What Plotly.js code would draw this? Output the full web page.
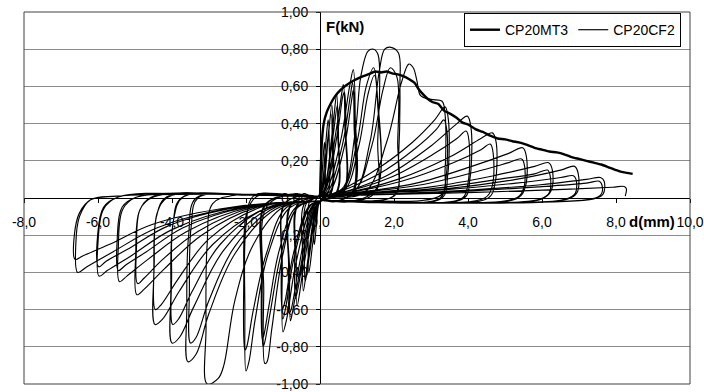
<!DOCTYPE html>
<html>
<head>
<meta charset="utf-8">
<script src="https://cdn.plot.ly/plotly-3.0.1.min.js"></script>
<style>html,body{margin:0;padding:0;background:#fff}#chart{width:704px;height:392px}</style>
</head>
<body>
<div id="chart"></div>
<script>
// Monotonic test CP20MT3: displacement d (mm) and force F (kN)
const mt3D = [0, 0.02, 0.05, 0.1, 0.18, 0.27, 0.4, 0.55, 0.7, 0.9, 1.1, 1.3, 1.5, 1.65, 1.8, 1.95, 2.1, 2.25, 2.4, 2.55, 2.65, 2.75, 2.9, 3.05, 3.2, 3.35, 3.5, 3.7, 3.85, 4.0, 4.2, 4.4, 4.6, 4.8, 5.0, 5.2, 5.4, 5.6, 5.8, 6.0, 6.2, 6.4, 6.6, 6.8, 7.0, 7.2, 7.4, 7.6, 7.8, 8.0, 8.15, 8.3, 8.45];
const mt3F = [0, 0.15, 0.3, 0.4, 0.46, 0.5, 0.545, 0.58, 0.605, 0.63, 0.65, 0.665, 0.68, 0.675, 0.68, 0.67, 0.665, 0.655, 0.64, 0.62, 0.59, 0.565, 0.535, 0.515, 0.505, 0.47, 0.455, 0.43, 0.405, 0.395, 0.37, 0.355, 0.335, 0.32, 0.315, 0.305, 0.298, 0.285, 0.27, 0.26, 0.25, 0.245, 0.235, 0.22, 0.21, 0.2, 0.19, 0.18, 0.165, 0.15, 0.14, 0.135, 0.13];

// Cyclic test CP20CF2: one array of [d, F] points per cycle
const cyc01 = [[0,0],[0.03,0.05],[0.08,0.2],[0.12,0.30],[0.14,0.2],[0.12,0.03],[0.03,-0.01],[-0.04,-0.04],[-0.10,-0.15],[-0.15,-0.25],[-0.17,-0.15],[-0.14,-0.02],[-0.03,0.01]];
const cyc02 = [[0.05,0.05],[0.15,0.28],[0.22,0.42],[0.25,0.28],[0.22,0.03],[0.03,-0.01],[-0.06,-0.05],[-0.2,-0.25],[-0.3,-0.40],[-0.32,-0.25],[-0.28,-0.02],[-0.03,0.01]];
const cyc03 = [[0.08,0.05],[0.22,0.32],[0.32,0.50],[0.35,0.32],[0.31,0.03],[0.05,-0.01],[-0.1,-0.05],[-0.32,-0.32],[-0.45,-0.50],[-0.47,-0.3],[-0.42,-0.03],[-0.05,0.01]];
const cyc03b = [[0.06,0.04],[0.2,0.3],[0.3,0.45],[0.33,0.3],[0.29,0.03],[0.04,-0.01],[-0.08,-0.05],[-0.28,-0.3],[-0.4,-0.45],[-0.42,-0.28],[-0.37,-0.03],[-0.04,0.01]];
const cyc04 = [[0.1,0.04],[0.33,0.35],[0.45,0.56],[0.48,0.35],[0.44,0.03],[0.05,-0.015],[-0.12,-0.05],[-0.45,-0.38],[-0.62,-0.58],[-0.64,-0.35],[-0.58,-0.03],[-0.05,0.01]];
const cyc04b = [[0.1,0.04],[0.35,0.33],[0.47,0.5],[0.5,0.32],[0.46,0.03],[0.05,-0.015],[-0.14,-0.05],[-0.48,-0.36],[-0.66,-0.54],[-0.68,-0.3],[-0.6,-0.03],[-0.05,0.01]];
const cyc05 = [[0.12,0.04],[0.45,0.38],[0.6,0.58],[0.63,0.61],[0.67,0.4],[0.62,0.03],[0.05,-0.015],[-0.15,-0.04],[-0.55,-0.4],[-0.76,-0.63],[-0.8,-0.66],[-0.82,-0.4],[-0.76,-0.03],[-0.05,0.01]];
const cyc05b = [[0.14,0.04],[0.48,0.36],[0.62,0.55],[0.66,0.57],[0.7,0.36],[0.64,0.03],[0.05,-0.015],[-0.18,-0.04],[-0.58,-0.38],[-0.78,-0.6],[-0.83,-0.62],[-0.85,-0.36],[-0.78,-0.03],[-0.05,0.01]];
const cyc06 = [[0.15,0.03],[0.55,0.3],[0.8,0.6],[0.9,0.69],[0.95,0.45],[0.9,0.03],[0.4,-0.02],[0.05,-0.015],[-0.2,-0.04],[-0.65,-0.35],[-0.9,-0.65],[-1.0,-0.72],[-1.02,-0.4],[-0.95,-0.03],[-0.4,0.015],[-0.05,0.01]];
const cyc07 = [[0.2,0.03],[0.6,0.28],[0.82,0.55],[0.88,0.62],[0.92,0.4],[0.87,0.03],[0.4,-0.02],[0.05,-0.015],[-0.25,-0.04],[-0.7,-0.32],[-0.92,-0.58],[-1.0,-0.65],[-1.02,-0.35],[-0.95,-0.03],[-0.4,0.015],[-0.05,0.01]];
const cyc07b = [[0.25,0.03],[0.65,0.27],[0.85,0.52],[0.9,0.58],[0.94,0.38],[0.88,0.03],[0.4,-0.02],[0.05,-0.015],[-0.28,-0.04],[-0.72,-0.3],[-0.94,-0.55],[-1.02,-0.6],[-1.04,-0.32],[-0.96,-0.03],[-0.4,0.015],[-0.05,0.01]];
const cyc08 = [[0.6,0.05],[0.95,0.35],[1.1,0.65],[1.3,0.79],[1.45,0.80],[1.57,0.77],[1.56,0.3],[1.5,0.03],[0.8,-0.02],[0.05,-0.015],[-0.6,-0.05],[-1.0,-0.3],[-1.3,-0.7],[-1.43,-0.88],[-1.49,-0.89],[-1.52,-0.5],[-1.45,-0.05],[-0.8,0.02],[-0.05,0.01]];
const cyc09 = [[0.6,0.04],[1.0,0.3],[1.25,0.6],[1.45,0.70],[1.55,0.55],[1.52,0.05],[0.8,-0.02],[0.05,-0.015],[-0.6,-0.05],[-1.05,-0.3],[-1.35,-0.62],[-1.5,-0.78],[-1.54,-0.80],[-1.56,-0.45],[-1.48,-0.04],[-0.8,0.02],[-0.05,0.01]];
const cyc09b = [[0.65,0.04],[1.05,0.28],[1.3,0.56],[1.47,0.66],[1.56,0.5],[1.53,0.05],[0.8,-0.02],[0.05,-0.015],[-0.65,-0.05],[-1.1,-0.28],[-1.38,-0.58],[-1.52,-0.74],[-1.56,-0.76],[-1.58,-0.42],[-1.5,-0.04],[-0.8,0.02],[-0.05,0.01]];
const cyc10 = [[0.9,0.03],[1.35,0.3],[1.6,0.68],[1.75,0.8],[1.92,0.81],[2.12,0.78],[2.16,0.6],[2.12,0.2],[2.05,0.02],[1.0,-0.02],[0.05,-0.015],[-0.8,-0.05],[-1.4,-0.3],[-1.75,-0.65],[-1.92,-0.88],[-2.0,-0.93],[-2.03,-0.6],[-2.0,-0.15],[-1.8,0.01],[-0.9,0.02],[-0.05,0.01]];
const cyc11 = [[0.9,0.03],[1.4,0.28],[1.7,0.58],[1.9,0.70],[2.08,0.65],[2.1,0.3],[2.03,0.02],[1.0,-0.02],[0.05,-0.015],[-0.9,-0.05],[-1.45,-0.3],[-1.8,-0.6],[-1.98,-0.8],[-2.03,-0.82],[-2.06,-0.45],[-1.98,-0.08],[-1.7,0.01],[-0.9,0.02],[-0.05,0.01]];
const cyc12 = [[1.2,0.03],[1.8,0.3],[2.2,0.62],[2.4,0.72],[2.52,0.70],[2.62,0.63],[2.72,0.55],[3.0,0.53],[3.3,0.52],[3.38,0.45],[3.38,0.15],[3.3,0.02],[1.5,-0.02],[0.05,-0.015],[-1.0,-0.05],[-1.8,-0.25],[-2.3,-0.55],[-2.6,-0.9],[-2.75,-0.97],[-3.05,-1.0],[-3.08,-0.7],[-3.05,-0.25],[-2.9,-0.03],[-2.3,0.015],[-0.05,0.01]];
const cyc13 = [[0.3,0.02],[1.5,0.15],[2.5,0.3],[3.1,0.42],[3.38,0.49],[3.47,0.42],[3.45,0.12],[3.3,0.0],[1.5,-0.02],[0.05,-0.015],[-1.2,-0.06],[-2.3,-0.3],[-3.0,-0.62],[-3.35,-0.84],[-3.57,-0.88],[-3.6,-0.6],[-3.55,-0.2],[-3.35,0.0],[-2.0,0.015],[-0.05,0.01]];
const cyc14 = [[0.3,0.02],[1.6,0.13],[2.6,0.27],[3.15,0.37],[3.35,0.42],[3.43,0.36],[3.4,0.1],[3.25,0.0],[1.5,-0.025],[0.05,-0.015],[-1.2,-0.05],[-2.3,-0.26],[-3.0,-0.55],[-3.35,-0.75],[-3.5,-0.78],[-3.53,-0.5],[-3.48,-0.15],[-3.3,0.0],[-2.0,0.02],[-0.05,0.01]];
const cyc15 = [[0.4,0.02],[1.8,0.12],[3.0,0.28],[3.7,0.4],[3.98,0.44],[4.08,0.38],[4.05,0.1],[3.9,0.0],[2.0,-0.025],[0.05,-0.015],[-1.4,-0.06],[-2.6,-0.28],[-3.4,-0.58],[-3.8,-0.75],[-4.0,-0.78],[-4.03,-0.5],[-3.98,-0.15],[-3.75,0.0],[-2.0,0.02],[-0.05,0.01]];
const cyc16 = [[0.4,0.02],[1.9,0.11],[3.1,0.24],[3.7,0.32],[3.95,0.36],[4.03,0.3],[4.0,0.08],[3.85,0.0],[2.0,-0.025],[0.05,-0.015],[-1.4,-0.05],[-2.7,-0.25],[-3.45,-0.5],[-3.82,-0.65],[-3.98,-0.68],[-4.01,-0.42],[-3.96,-0.12],[-3.7,0.005],[-2.0,0.02],[-0.05,0.01]];
const cyc17 = [[0.5,0.02],[2.1,0.1],[3.5,0.22],[4.35,0.32],[4.66,0.35],[4.76,0.3],[4.73,0.08],[4.55,0.0],[2.3,-0.025],[0.05,-0.015],[-1.5,-0.06],[-2.9,-0.25],[-3.8,-0.5],[-4.25,-0.65],[-4.46,-0.68],[-4.49,-0.4],[-4.42,-0.1],[-4.15,0.005],[-2.2,0.02],[-0.05,0.01]];
const cyc18 = [[0.5,0.02],[2.2,0.09],[3.6,0.19],[4.35,0.26],[4.6,0.29],[4.68,0.24],[4.65,0.06],[4.45,0.0],[2.3,-0.025],[0.05,-0.015],[-1.6,-0.05],[-3.0,-0.22],[-3.85,-0.44],[-4.28,-0.57],[-4.45,-0.60],[-4.48,-0.35],[-4.4,-0.08],[-4.1,0.005],[-2.2,0.02],[-0.05,0.01]];
const cyc19 = [[0.6,0.02],[2.6,0.08],[4.1,0.17],[5.1,0.24],[5.48,0.27],[5.58,0.22],[5.55,0.06],[5.35,0.0],[2.7,-0.025],[0.05,-0.015],[-1.7,-0.05],[-3.2,-0.2],[-4.2,-0.38],[-4.75,-0.49],[-4.95,-0.52],[-4.98,-0.3],[-4.88,-0.07],[-4.55,0.005],[-2.4,0.02],[-0.05,0.01]];
const cyc20 = [[0.6,0.02],[2.7,0.07],[4.2,0.14],[5.1,0.19],[5.45,0.21],[5.53,0.17],[5.5,0.05],[5.3,0.0],[2.7,-0.025],[0.05,-0.015],[-1.8,-0.05],[-3.3,-0.18],[-4.25,-0.33],[-4.75,-0.43],[-4.93,-0.46],[-4.96,-0.27],[-4.86,-0.06],[-4.5,0.005],[-2.4,0.02],[-0.05,0.01]];
const cyc21 = [[0.7,0.02],[3.0,0.06],[4.7,0.12],[5.8,0.17],[6.18,0.19],[6.28,0.15],[6.25,0.04],[6.0,-0.005],[3.0,-0.025],[0.05,-0.015],[-1.9,-0.05],[-3.6,-0.18],[-4.65,-0.33],[-5.22,-0.42],[-5.42,-0.45],[-5.45,-0.26],[-5.33,-0.06],[-4.95,0.005],[-2.6,0.02],[-0.05,0.01]];
const cyc22 = [[0.7,0.02],[3.0,0.05],[4.8,0.1],[5.8,0.13],[6.15,0.15],[6.22,0.12],[6.2,0.03],[5.95,-0.005],[3.0,-0.025],[0.05,-0.015],[-2.0,-0.05],[-3.7,-0.16],[-4.7,-0.29],[-5.25,-0.36],[-5.45,-0.39],[-5.48,-0.22],[-5.35,-0.05],[-4.95,0.005],[-2.6,0.02],[-0.05,0.01]];
const cyc23 = [[0.8,0.02],[3.4,0.05],[5.3,0.1],[6.5,0.15],[6.88,0.17],[6.98,0.13],[6.95,0.03],[6.7,-0.005],[3.4,-0.025],[0.05,-0.015],[-2.1,-0.05],[-4.0,-0.17],[-5.1,-0.31],[-5.75,-0.39],[-5.97,-0.42],[-6.0,-0.24],[-5.85,-0.06],[-5.45,0.005],[-2.9,0.02],[-0.05,0.01]];
const cyc24 = [[0.8,0.02],[3.4,0.045],[5.3,0.08],[6.5,0.11],[6.85,0.12],[6.92,0.1],[6.9,0.025],[6.65,-0.005],[3.4,-0.025],[0.05,-0.015],[-2.2,-0.05],[-4.1,-0.15],[-5.15,-0.27],[-5.78,-0.34],[-5.98,-0.37],[-6.01,-0.2],[-5.85,-0.05],[-5.45,0.005],[-2.9,0.02],[-0.05,0.01]];
const cyc25 = [[0.9,0.015],[3.8,0.04],[5.9,0.07],[7.2,0.1],[7.58,0.11],[7.68,0.09],[7.65,0.02],[7.4,-0.005],[3.7,-0.025],[0.05,-0.015],[-2.3,-0.05],[-4.4,-0.16],[-5.6,-0.29],[-6.3,-0.37],[-6.55,-0.40],[-6.6,-0.25],[-6.5,-0.1],[-6.2,-0.01],[-5.5,0.01],[-3.0,0.02],[-0.05,0.01]];
const cyc26 = [[0.9,0.015],[3.8,0.035],[5.9,0.06],[7.2,0.08],[7.55,0.09],[7.62,0.07],[7.6,0.02],[7.35,-0.005],[3.7,-0.025],[0.05,-0.015],[-2.4,-0.05],[-4.5,-0.14],[-5.7,-0.25],[-6.4,-0.31],[-6.62,-0.33],[-6.64,-0.2],[-6.5,-0.08],[-6.2,-0.01],[-5.5,0.01],[-3.0,0.02],[-0.05,0.01]];
const cyc27 = [[1.0,0.015],[4.2,0.03],[6.4,0.045],[7.9,0.058],[8.22,0.062],[8.28,0.05],[8.25,0.01]];

const seriesNames = ['CP20MT3', 'CP20CF2'];
const xTitle = 'd(mm)';
const yTitle = 'F(kN)';
const xTickVals = [-8, -6, -4, -2, 0, 2, 4, 6, 8, 10];
const xTickText = ['-8,0', '-6,0', '-4,0', '-2,0', '0,0', '2,0', '4,0', '6,0', '8,0', '10,0'];
const yTickVals = [-1, -0.8, -0.6, -0.4, -0.2, 0, 0.2, 0.4, 0.6, 0.8, 1];
const yTickText = ['-1,00', '-0,80', '-0,60', '-0,40', '-0,20', '0,00', '0,20', '0,40', '0,60', '0,80', '1,00'];

const cycles = [cyc01,cyc02,cyc03,cyc03b,cyc04,cyc04b,cyc05,cyc05b,cyc06,cyc07,cyc07b,cyc08,cyc09,cyc09b,cyc10,cyc11,cyc12,cyc13,cyc14,cyc15,cyc16,cyc17,cyc18,cyc19,cyc20,cyc21,cyc22,cyc23,cyc24,cyc25,cyc26,cyc27];
const cf2 = [].concat(...cycles);
const cf2D = cf2.map(p => p[0]);
const cf2F = cf2.map(p => p[1]);

const font = 'Arial, "Liberation Sans", sans-serif';

const traces = [
  {x: mt3D, y: mt3F, type: 'scatter', mode: 'lines', name: seriesNames[0],
   line: {color: '#000', width: 2.4, shape: 'spline', smoothing: 0.6}},
  {x: cf2D, y: cf2F, type: 'scatter', mode: 'lines', name: seriesNames[1],
   line: {color: '#000', width: 1.15, shape: 'spline', smoothing: 1}}
];

const layout = {
  width: 704, height: 392,
  margin: {l: 24, r: 14, t: 12, b: 8},
  paper_bgcolor: '#fff', plot_bgcolor: '#fff',
  font: {family: font, size: 14, color: '#000'},
  showlegend: true,
  legend: {orientation: 'h', x: 0.9865, xanchor: 'right', y: 0.997, yanchor: 'top',
           bordercolor: '#000', borderwidth: 1, bgcolor: '#fff', font: {family: font, size: 14, color: '#000'},
           itemwidth: 30, tracegroupgap: 0},
  xaxis: {range: [-8, 10], tickmode: 'array', tickvals: xTickVals, ticktext: xTickText, anchor: 'free', position: 0.5,
          showline: true, linecolor: '#000', linewidth: 1, ticks: 'outside', ticklen: 4, tickcolor: '#000',
          showgrid: false, zeroline: false, ticklabelstandoff: 7, fixedrange: true},
  yaxis: {range: [-1, 1], tickmode: 'array', tickvals: yTickVals, ticktext: yTickText, anchor: 'free', position: 8/18,
          showline: true, linecolor: '#000', linewidth: 1, ticks: 'outside', ticklen: 4, tickcolor: '#000',
          showgrid: true, gridcolor: '#8c8c8c', gridwidth: 1, zeroline: false, ticklabelstandoff: 5, fixedrange: true},
  shapes: [{type: 'rect', xref: 'paper', yref: 'paper', x0: 0, x1: 1, y0: 0, y1: 1,
            line: {color: '#404040', width: 1}, layer: 'above'}],
  annotations: [
    {text: '<b>' + yTitle + '</b>', xref: 'x', yref: 'y', x: 0.12, y: 0.92, xanchor: 'left',
     showarrow: false, font: {family: font, size: 15, color: '#000'}},
    {text: '<b>' + xTitle + '</b>', xref: 'x', yref: 'y', x: 8.3, y: -0.125, xanchor: 'left',
     showarrow: false, font: {family: font, size: 15, color: '#000'}}
  ]
};

Plotly.newPlot('chart', traces, layout, {displayModeBar: false, staticPlot: true});
</script>
</body>
</html>
